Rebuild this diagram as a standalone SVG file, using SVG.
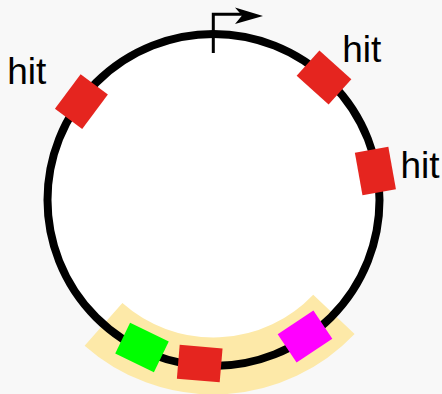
<svg xmlns="http://www.w3.org/2000/svg" width="442" height="394" viewBox="0 0 442 394">
  <style>
    .lbl { font-family: "Liberation Sans", Arial, sans-serif; font-size: 37px; fill: #000; }
    .hit { fill: #e5251f; }
  </style>
  <defs>
    <rect id="box" x="-17" y="-21.5" width="34" height="43"/>
  </defs>
  <rect width="442" height="394" fill="#f8f8f8"/>
  <g id="plasmid">
    <circle cx="213.5" cy="200" r="166" fill="#ffffff"/>
    <path id="region" d="M333.9 314.3 A166 166 0 0 1 103.5 324.3" fill="none" stroke="#fde9a8" stroke-width="57"/>
    <circle cx="213.5" cy="200" r="166" fill="none" stroke="#000" stroke-width="8"/>
  </g>
  <g id="connectors">
    <path d="M213.3 53 V14.3 H243" fill="none" stroke="#000" stroke-width="3"/>
    <polygon points="235,7.5 263,16 235,24 242,15.5" fill="#000"/>
  </g>
  <g id="hit-topleft">
    <use href="#box" class="hit" transform="translate(81.4 101.7) rotate(-143.3)"/>
    <text class="lbl" x="7.3" y="84">hit</text>
  </g>
  <g id="hit-topright">
    <use href="#box" class="hit" transform="translate(324 77.5) rotate(-48)"/>
    <text class="lbl" x="342.3" y="62">hit</text>
  </g>
  <g id="hit-right">
    <use href="#box" class="hit" transform="translate(375.4 171) rotate(-10.2)"/>
    <text class="lbl" x="400.5" y="178">hit</text>
  </g>
  <g id="green">
    <use href="#box" fill="#00ff00" transform="translate(142 347.5) rotate(115.9)"/>
  </g>
  <g id="red-bottom">
    <use href="#box" class="hit" transform="translate(199.7 363.6) rotate(94.8)"/>
  </g>
  <g id="magenta">
    <use href="#box" fill="#ff00ff" transform="translate(305 336.5) rotate(56.2)"/>
  </g>
</svg>
